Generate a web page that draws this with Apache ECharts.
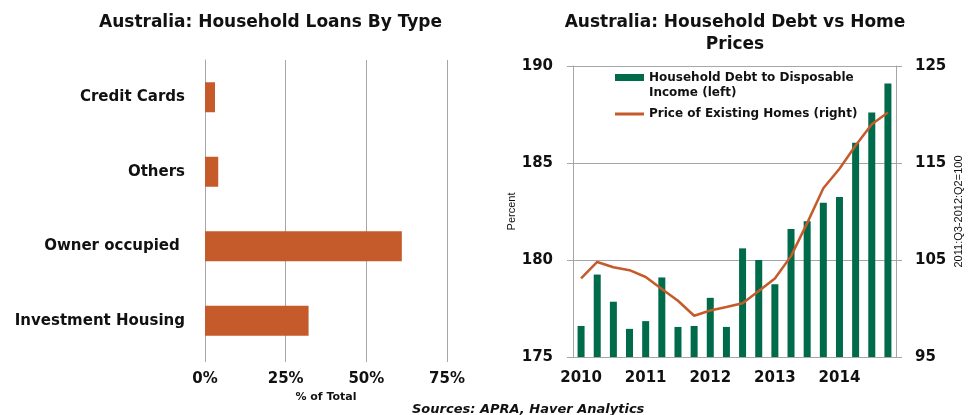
<!DOCTYPE html>
<html>
<head>
<meta charset="utf-8">
<script src="https://cdn.jsdelivr.net/npm/echarts@6/dist/echarts.min.js"></script>
<style>
html, body { margin: 0; padding: 0; background: #fff; }
#main { width: 972px; height: 415px; }
</style>
</head>
<body>
<div id="main"></div>
<script>
// left panel - share of household loans (%)
var loanTypes = ['Credit Cards', 'Others', 'Owner occupied ', 'Investment Housing'];
var loanShares = [3.1, 4.1, 61, 32.1];

// right panel - quarterly 2010-2014
var quarters = ['2010Q1','2010Q2','2010Q3','2010Q4','2011Q1','2011Q2','2011Q3','2011Q4',
                '2012Q1','2012Q2','2012Q3','2012Q4','2013Q1','2013Q2','2013Q3','2013Q4',
                '2014Q1','2014Q2','2014Q3','2014Q4'];
var debtToIncome = [176.6, 179.25, 177.85, 176.45, 176.85, 179.1, 176.55, 176.6, 178.05, 176.55,
                    180.6, 180.0, 178.75, 181.6, 182.0, 182.95, 183.25, 186.05, 187.6, 189.1];
var homePrices = [103.1, 104.8, 104.25, 103.95, 103.25, 102.0, 100.8, 99.25, 99.8, 100.15,
                  100.55, 101.8, 103.1, 105.4, 108.8, 112.4, 114.4, 116.8, 119.0, 120.2];

var debtName = 'Household Debt to Disposable\nIncome (left)';
var priceName = 'Price of Existing Homes (right)';

var wide = "'DejaVu Sans', Verdana, sans-serif";
var narrow = "'Liberation Sans Narrow', 'Liberation Sans', Arial, sans-serif";
var gridGrey = '#a6a6a6';
var rust = '#c55a2b';
var green = '#006b4a';

var chart = echarts.init(document.getElementById('main'));
chart.setOption({
    animation: false,
    title: [
        {
            text: 'Australia: Household Loans By Type',
            left: 94, top: 9,
            textStyle: { fontFamily: wide, fontWeight: 'bold', fontSize: 17, color: '#111' }
        },
        {
            text: 'Australia: Household Debt vs Home\nPrices',
            left: 730, top: 7,
            textAlign: 'center',
            textStyle: { fontFamily: wide, fontWeight: 'bold', fontSize: 17, color: '#111', lineHeight: 22 }
        },
        {
            text: 'Sources: APRA, Haver Analytics',
            left: 407, top: 398,
            textStyle: { fontFamily: wide, fontWeight: 'bold', fontStyle: 'italic', fontSize: 13, color: '#111' }
        }
    ],
    legend: [
        {
            data: [debtName],
            left: 615, top: 55, padding: 0,
            icon: 'rect', itemWidth: 29, itemHeight: 7,
            selectedMode: false,
            formatter: function (name) { return '\n' + name; },
            textStyle: { fontFamily: wide, fontWeight: 'bold', fontSize: 12, color: '#111', lineHeight: 15 }
        },
        {
            data: [priceName],
            left: 615, top: 108, padding: 0,
            icon: 'rect', itemWidth: 29, itemHeight: 3,
            selectedMode: false,
            textStyle: { fontFamily: wide, fontWeight: 'bold', fontSize: 12, color: '#111' }
        }
    ],
    grid: [
        { left: 205, right: 525, top: 60, bottom: 57 },
        { left: 573, right: 76, top: 66, bottom: 58 }
    ],
    xAxis: [
        {
            gridIndex: 0, type: 'value', min: 0, max: 75, interval: 25,
            name: '% of Total', nameLocation: 'middle', nameGap: 33,
            nameTextStyle: { fontFamily: wide, fontWeight: 'bold', fontSize: 11, color: '#111' },
            axisLine: { show: false },
            axisTick: { show: true, length: 4, lineStyle: { color: gridGrey } },
            axisLabel: { formatter: '{value}%', margin: 14, fontFamily: wide, fontWeight: 'bold', fontSize: 15, color: '#111' },
            splitLine: { show: true, lineStyle: { color: gridGrey, width: 1 } }
        },
        {
            gridIndex: 1, type: 'category', data: quarters,
            axisLine: { lineStyle: { color: gridGrey } },
            axisTick: { show: false },
            axisLabel: {
                interval: 3, margin: 14, fontFamily: wide, fontWeight: 'bold', fontSize: 15, color: '#111',
                formatter: function (v) { return v.slice(0, 4); }
            }
        }
    ],
    yAxis: [
        {
            gridIndex: 0, type: 'category', data: loanTypes, inverse: true,
            axisLine: { lineStyle: { color: gridGrey } },
            axisTick: { show: false },
            axisLabel: { margin: 20, fontFamily: wide, fontWeight: 'bold', fontSize: 15, color: '#111' }
        },
        {
            gridIndex: 1, type: 'value', min: 175, max: 190, interval: 5,
            name: 'Percent', nameLocation: 'middle', nameGap: 55, nameRotate: 90,
            nameTextStyle: { fontFamily: narrow, fontSize: 11, color: '#111' },
            axisLine: { show: true, lineStyle: { color: gridGrey } },
            axisTick: { show: true, length: 6, lineStyle: { color: gridGrey } },
            axisLabel: { margin: 20, fontFamily: wide, fontWeight: 'bold', fontSize: 15, color: '#111' },
            splitLine: { show: true, lineStyle: { color: gridGrey } }
        },
        {
            gridIndex: 1, type: 'value', position: 'right', min: 95, max: 125, interval: 10,
            name: '2011:Q3-2012:Q2=100', nameLocation: 'middle', nameGap: 57, nameRotate: 90,
            nameTextStyle: { fontFamily: narrow, fontSize: 11, color: '#111' },
            axisLine: { show: true, lineStyle: { color: gridGrey } },
            axisTick: { show: true, length: 6, lineStyle: { color: gridGrey } },
            axisLabel: { margin: 19, fontFamily: wide, fontWeight: 'bold', fontSize: 15, color: '#111' },
            splitLine: { show: false }
        }
    ],
    series: [
        {
            name: 'Loans', type: 'bar', xAxisIndex: 0, yAxisIndex: 0,
            data: loanShares, barWidth: 30,
            itemStyle: { color: rust }
        },
        {
            name: debtName, type: 'bar', xAxisIndex: 1, yAxisIndex: 1,
            data: debtToIncome, barWidth: 7,
            itemStyle: { color: green }
        },
        {
            name: priceName, type: 'line', xAxisIndex: 1, yAxisIndex: 2,
            data: homePrices, symbol: 'none',
            lineStyle: { color: rust, width: 2.5 },
            itemStyle: { color: rust }
        }
    ]
});
</script>
</body>
</html>
